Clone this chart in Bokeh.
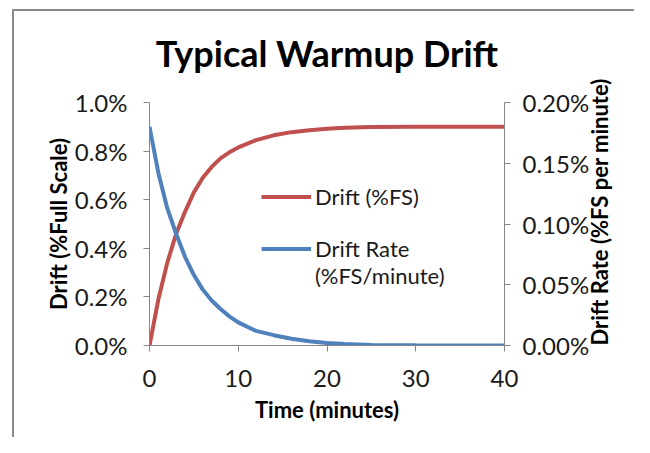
import math
from bokeh.plotting import figure
from bokeh.models import (Range1d, LinearAxis, FixedTicker, PrintfTickFormatter,
                          Legend, LegendItem)
from bokeh.embed import file_html
from bokeh.resources import INLINE

# ---- data ----
time_min = [0, 1, 2, 3, 4, 5, 6, 7, 8, 9, 10, 12, 14, 16, 18, 20, 22, 25, 30, 35, 40]
drift_pct = [0.0, 0.19, 0.34, 0.46, 0.55, 0.63, 0.69, 0.735, 0.77, 0.795, 0.815,
             0.845, 0.865, 0.878, 0.886, 0.892, 0.896, 0.899, 0.90, 0.90, 0.90]
rate_pct = [0.180, 0.142, 0.113, 0.092, 0.073, 0.058, 0.046, 0.037, 0.030, 0.024, 0.019,
            0.012, 0.0085, 0.0055, 0.0035, 0.002, 0.0012, 0.0005, 0.0002, 0.0, 0.0]

x_ticks = [0, 10, 20, 30, 40]
left_ticks = [0.0, 0.2, 0.4, 0.6, 0.8, 1.0]
right_ticks = [0.0, 0.05, 0.10, 0.15, 0.20]

title_text = "Typical Warmup Drift"
x_label = "Time (minutes)"
left_label = "Drift (%Full Scale)"
right_label = "Drift Rate (%FS per minute)"
series_names = ["Drift (%FS)", "Drift Rate", "(%FS/minute)"]

RED = "#C0504D"
BLUE = "#4F81BD"
AXIS = "#868686"
FONT = "Lato"
TXT = "#1a1a1a"

frame_bg = ("linear-gradient(#8a8a8a,#8a8a8a) 12px 9px / 2px 100% no-repeat, "
            "linear-gradient(#8a8a8a,#8a8a8a) 12px 9px / 100% 2px no-repeat")

p = figure(width=634, height=437, output_backend="svg", toolbar_location=None,
           x_range=Range1d(0, 40), y_range=Range1d(0, 1.0),
           min_border_left=149, min_border_right=130,
           min_border_top=102, min_border_bottom=92,
           title=title_text,
           styles={"background": frame_bg})
p.border_fill_color = None
p.background_fill_color = None
p.outline_line_color = None
p.xgrid.visible = False
p.ygrid.visible = False

p.title.align = "center"
p.title.text_font = FONT
p.title.text_font_size = "36px"
p.title.text_font_style = "bold"
p.title.text_color = "#000000"
p.title.standoff = 56

p.extra_y_ranges = {"rate": Range1d(0, 0.2)}

def style_axis(ax):
    ax.axis_line_color = AXIS
    ax.major_tick_line_color = AXIS
    ax.major_tick_in = 0
    ax.major_tick_out = 6
    ax.minor_tick_line_color = None
    ax.major_label_text_font = FONT
    ax.major_label_text_font_size = "24px"
    ax.major_label_text_color = TXT
    ax.major_label_standoff = 14
    ax.axis_label_text_font = FONT
    ax.axis_label_text_font_size = "22px"
    ax.axis_label_text_font_style = "bold"
    ax.axis_label_text_color = "#000000"

xa = p.xaxis[0]
xa.ticker = FixedTicker(ticks=x_ticks)
xa.axis_label = x_label
style_axis(xa)
xa.major_label_standoff = 18
xa.axis_label_standoff = 6

ya = p.yaxis[0]
ya.ticker = FixedTicker(ticks=left_ticks)
ya.formatter = PrintfTickFormatter(format="%.1f%%")
ya.axis_label = left_label
style_axis(ya)
ya.major_label_standoff = 16
ya.axis_label_standoff = 0

ra = LinearAxis(y_range_name="rate", ticker=FixedTicker(ticks=right_ticks),
                formatter=PrintfTickFormatter(format="%.2f%%"), axis_label=right_label)
style_axis(ra)
ra.major_label_standoff = 12
ra.axis_label_standoff = 7
ra.axis_label_orientation = math.pi / 2
ra.axis_label_align = "start"
p.add_layout(ra, "right")

r_red = p.line(time_min, drift_pct, line_color=RED, line_width=4)
r_blue = p.line(time_min, rate_pct, line_color=BLUE, line_width=4, y_range_name="rate")
r_blank = p.line(time_min, drift_pct, line_alpha=0)

legend = Legend(items=[
    LegendItem(label=series_names[0], renderers=[r_red]),
    LegendItem(label=" ", renderers=[r_blank]),
    LegendItem(label=series_names[1], renderers=[r_blue]),
    LegendItem(label=series_names[2], renderers=[r_blank]),
], location=(112, 56))
legend.border_line_color = None
legend.background_fill_alpha = 0
legend.padding = 0
legend.margin = 0
legend.spacing = 0
legend.glyph_width = 50
legend.glyph_height = 25
legend.label_height = 25
legend.label_standoff = 4
legend.label_text_font = FONT
legend.label_text_font_size = "22px"
legend.label_text_color = TXT
p.add_layout(legend, "center")

open("out.html", "w").write(file_html(p, INLINE))
